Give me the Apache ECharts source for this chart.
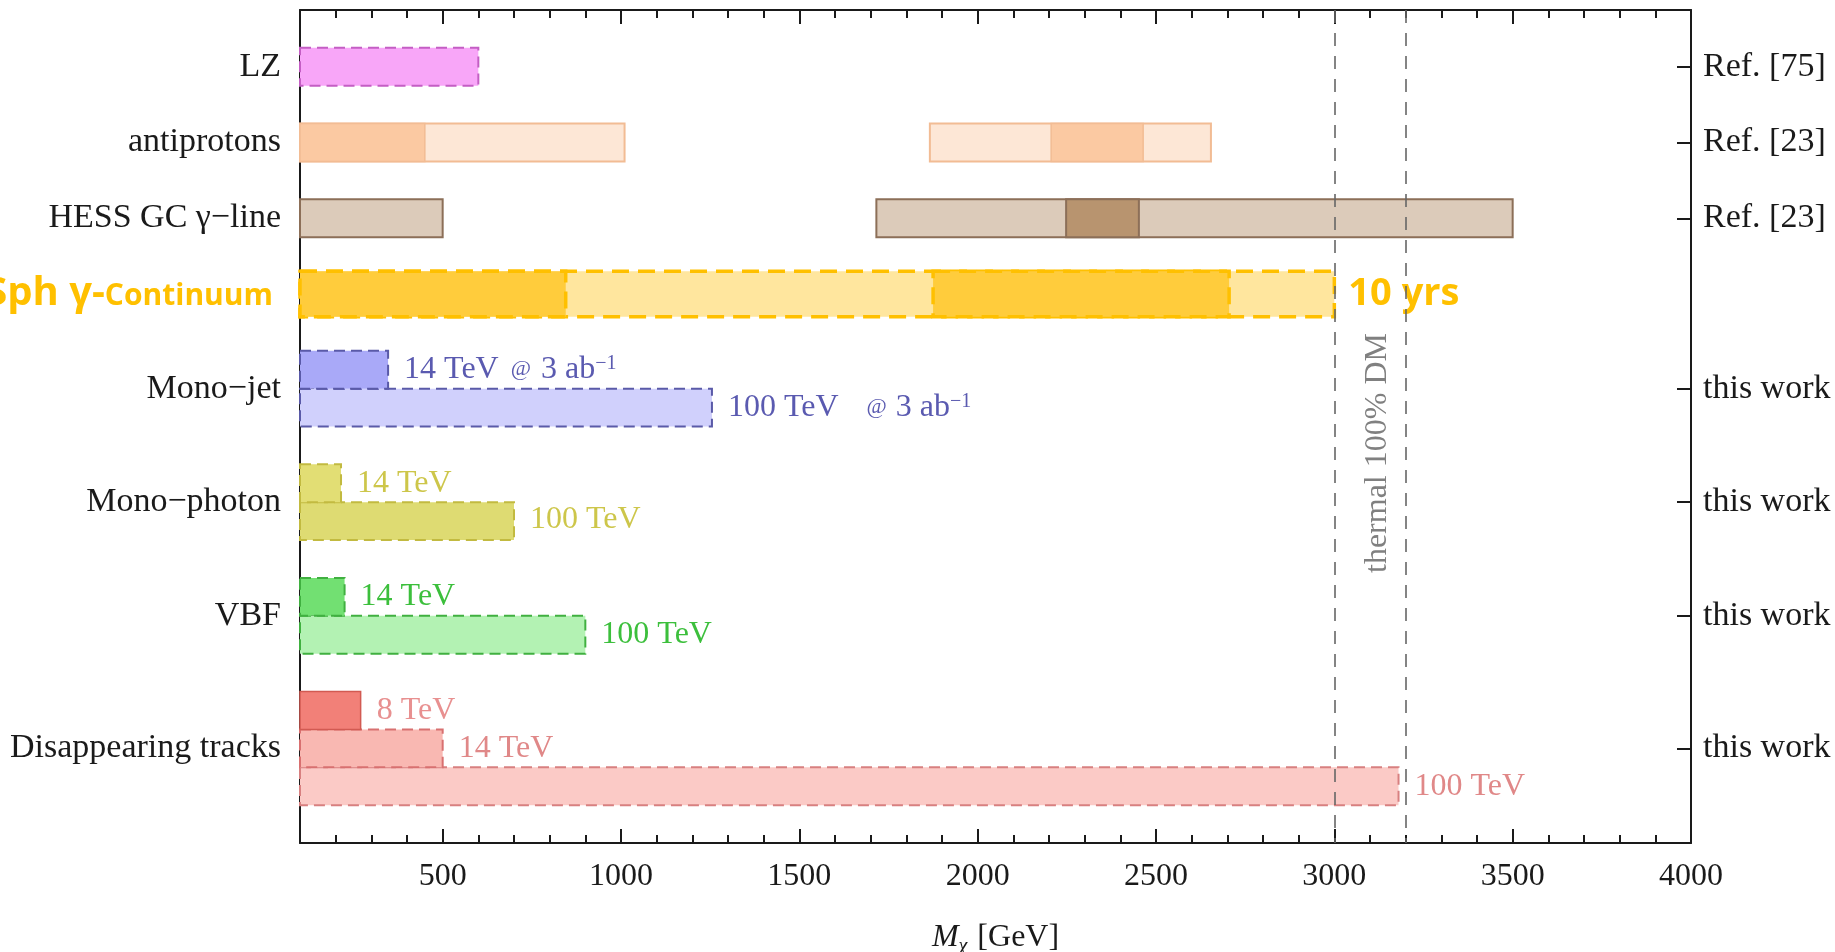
<!DOCTYPE html>
<html>
<head>
<meta charset="utf-8">
<script src="https://cdn.jsdelivr.net/npm/echarts@6/dist/echarts.min.js"></script>
<style>
html,body{margin:0;padding:0;background:#fff;}
#chart{width:1835px;height:952px;}
</style>
</head>
<body>
<div id="chart"></div>
<script>
// ---------- data ----------
const categories = ['LZ', 'antiprotons', 'HESS GC γ−line', 'Sph γ-Continuum', 'Mono−jet', 'Mono−photon', 'VBF', 'Disappearing tracks'];
const categoryPos = [1.5, 3.5, 5.5, 7.5, 10, 13, 16, 19.5];
const refLabels = ['Ref. [75]', 'Ref. [23]', 'Ref. [23]', '', 'this work', 'this work', 'this work', 'this work'];
const xTickLabels = [500, 1000, 1500, 2000, 2500, 3000, 3500, 4000];
const xMinorTicks = [200, 300, 400, 500, 600, 700, 800, 900, 1000, 1100, 1200, 1300, 1400, 1500, 1600, 1700, 1800, 1900, 2000, 2100, 2200, 2300, 2400, 2500, 2600, 2700, 2800, 2900, 3000, 3100, 3200, 3300, 3400, 3500, 3600, 3700, 3800, 3900];

// bars: [from GeV, to GeV, row lane]
const lzBars = [[100, 600, 1.5]];
const antiprotonLight = [[100, 1010, 3.5], [1866, 2654, 3.5]];
const antiprotonDark = [[100, 450, 3.5], [2206, 2464, 3.5]];
const hessLight = [[100, 500, 5.5], [1716, 3500, 5.5]];
const hessDark = [[2248, 2452, 5.5]];
const sphLight = [[100, 3000, 7.5]];
const sphDark = [[100, 845, 7.5], [1875, 2705, 7.5]];
const monojet100 = [[100, 1255, 10.5]];
const monojet14 = [[100, 347, 9.5]];
const monophoton100 = [[100, 700, 13.5]];
const monophoton14 = [[100, 215, 12.5]];
const vbf100 = [[100, 900, 16.5]];
const vbf14 = [[100, 225, 15.5]];
const dt100 = [[100, 3180, 20.5]];
const dt14 = [[100, 500, 19.5]];
const dt8 = [[100, 270, 18.5]];
const thermalLines = [3000, 3200];
const thermalNote = [[3122, 11.7, 'thermal 100% DM']];

// ---------- styling ----------
const SERIF = '"Liberation Serif", "DejaVu Serif", serif';
const SANS = '"Open Sans", "Noto Sans", sans-serif';
const dashS = [11, 6];

function barSeries(name, data, st) {
  return {
    type: 'custom', name: name, data: data, xAxisIndex: 0, yAxisIndex: 0, clip: false, silent: true,
    renderItem: function (params, api) {
      const h = st.h || 1;
      const a = api.coord([api.value(0), api.value(2) - h / 2]);
      const b = api.coord([api.value(1), api.value(2) + h / 2]);
      const y0 = Math.min(a[1], b[1]), y1 = Math.max(a[1], b[1]);
      const children = [{
        type: 'rect',
        shape: { x: a[0], y: y0, width: b[0] - a[0], height: y1 - y0 },
        style: { fill: st.fill, stroke: st.stroke || null, lineWidth: st.lw || 1.5, lineDash: st.dash || null }
      }];
      if (st.label) {
        children.push({
          type: 'text', x: b[0] + (st.gap || 15), y: (y0 + y1) / 2 + (st.dy || 0),
          style: {
            text: st.label, fill: st.color, fontSize: st.fontSize || 32,
            fontFamily: st.font || SERIF, fontWeight: st.fontWeight || 'normal',
            align: 'left', verticalAlign: 'middle', rich: st.rich || {}
          }
        });
      }
      return { type: 'group', children: children };
    }
  };
}

function supRich(color, atPad) {
  return {
    a: { fill: color, fontSize: 32, fontFamily: SERIF },
    at: { fill: color, fontSize: 22, fontFamily: SERIF, padding: atPad },
    sup: { fill: color, fontSize: 20, fontFamily: SERIF, verticalAlign: 'top', padding: [0, 0, 10, 0] }
  };
}

const series = [
  barSeries('LZ', lzBars, { fill: '#f8a6f8', stroke: '#c45ec4', dash: dashS, lw: 2 }),
  barSeries('antiprotons light', antiprotonLight, { fill: '#fde7d6', stroke: '#f2bc94', lw: 2 }),
  barSeries('antiprotons dark', antiprotonDark, { fill: '#fbc9a2', stroke: '#f2bc94', lw: 1.5 }),
  barSeries('HESS light', hessLight, { fill: '#dccbba', stroke: '#8c6f58', lw: 2 }),
  barSeries('HESS dark', hessDark, { fill: '#b8946f', stroke: '#8c6f58', lw: 2 }),
  barSeries('Sph light', sphLight, { h: 1.2, fill: '#ffe69e', stroke: '#ffc000', dash: [17, 9], lw: 3.5,
    label: '10 yrs', color: '#ffc000', fontSize: 38, font: SANS, fontWeight: 'bold', gap: 14 }),
  barSeries('Sph dark', sphDark, { h: 1.2, fill: '#ffcc3c', stroke: '#ffc000', dash: [17, 9], lw: 3.5 }),
  barSeries('Mono-jet 100', monojet100, { fill: '#d0d0fc', stroke: '#5a5aa8', dash: dashS, lw: 2,
    label: '{a|100 TeV}{at|@}{a|3 ab}{sup|−1}', color: '#5a5ab0', rich: supRich('#5a5ab0', [0, 9, 0, 28]), gap: 16 }),
  barSeries('Mono-jet 14', monojet14, { fill: '#a9a9f8', stroke: '#5a5aa8', dash: dashS, lw: 2,
    label: '{a|14 TeV}{at|@}{a|3 ab}{sup|−1}', color: '#5a5ab0', rich: supRich('#5a5ab0', [0, 10, 0, 12]), gap: 16 }),
  barSeries('Mono-photon 100', monophoton100, { fill: '#dedb72', stroke: '#c2ba40', dash: dashS, lw: 2,
    label: '100 TeV', color: '#cdc64a', gap: 16, dy: -2 }),
  barSeries('Mono-photon 14', monophoton14, { fill: '#e2de74', stroke: '#c2ba40', dash: dashS, lw: 2,
    label: '14 TeV', color: '#cdc64a', gap: 16 }),
  barSeries('VBF 100', vbf100, { fill: '#b3f2b3', stroke: '#40b040', dash: dashS, lw: 2,
    label: '100 TeV', color: '#3cbf3c', gap: 16 }),
  barSeries('VBF 14', vbf14, { fill: '#72e072', stroke: '#40b040', dash: dashS, lw: 2,
    label: '14 TeV', color: '#3cbf3c', gap: 16 }),
  barSeries('DT 100', dt100, { fill: '#fbcac6', stroke: '#d88080', dash: dashS, lw: 2,
    label: '100 TeV', color: '#e08888', gap: 16 }),
  barSeries('DT 14', dt14, { fill: '#f9b8b2', stroke: '#d87070', dash: dashS, lw: 2,
    label: '14 TeV', color: '#e08888', gap: 16 }),
  barSeries('DT 8', dt8, { fill: '#f28078', stroke: '#d25a52', lw: 1.5,
    label: '8 TeV', color: '#e89090', gap: 16 }),
  {
    type: 'custom', name: 'thermal', data: thermalNote, xAxisIndex: 0, yAxisIndex: 0, clip: false, silent: true,
    renderItem: function (params, api) {
      const p = api.coord([api.value(0), api.value(1)]);
      return {
        type: 'text', x: p[0], y: p[1], rotation: Math.PI / 2,
        style: { text: thermalNote[params.dataIndex][2], fill: '#808080', fontSize: 32, fontFamily: SERIF,
          align: 'center', verticalAlign: 'middle' }
      };
    },
    markLine: {
      silent: true, symbol: 'none', animation: false,
      label: { show: false },
      lineStyle: { type: [13, 10], color: '#666', width: 1.6 },
      data: thermalLines.map(v => ({ xAxis: v }))
    }
  }
];

const axisCommon = {
  type: 'value', min: 100, max: 4000, gridIndex: 0,
  splitLine: { show: false }
};

const tickPos = categoryPos.filter((v, i) => refLabels[i] !== '' && i !== 3);

const option = {
  animation: false,
  backgroundColor: '#ffffff',
  grid: { left: 300, right: 144, top: 10, bottom: 109, containLabel: false, outerBoundsMode: 'none' },
  xAxis: [
    Object.assign({}, axisCommon, {
      position: 'bottom',
      axisLine: { show: true, onZero: false, lineStyle: { color: '#1a1a1a', width: 2 } },
      axisTick: { show: true, inside: true, length: 14, customValues: xTickLabels, lineStyle: { color: '#1a1a1a', width: 2 } },
      axisLabel: { show: true, customValues: xTickLabels, margin: 18, color: '#1a1a1a', fontSize: 32, fontFamily: SERIF,
        formatter: v => String(v) },
      name: '{i|M}{sub|χ} [GeV]', nameLocation: 'middle', nameGap: 76,
      nameTextStyle: {
        color: '#1a1a1a', fontSize: 32, fontFamily: SERIF,
        rich: {
          i: { fontStyle: 'italic', fontSize: 32, fontFamily: SERIF, color: '#1a1a1a' },
          sub: { fontStyle: 'italic', fontSize: 20, fontFamily: SERIF, color: '#1a1a1a', verticalAlign: 'bottom', padding: [18, 2, 0, 0] }
        }
      }
    }),
    Object.assign({}, axisCommon, {
      position: 'bottom',
      axisLine: { show: false, onZero: false },
      axisTick: { show: true, inside: true, length: 8, customValues: xMinorTicks, lineStyle: { color: '#1a1a1a', width: 2 } },
      axisLabel: { show: false }
    }),
    Object.assign({}, axisCommon, {
      position: 'top',
      axisLine: { show: true, onZero: false, lineStyle: { color: '#1a1a1a', width: 2 } },
      axisTick: { show: true, inside: true, length: 14, customValues: xTickLabels, lineStyle: { color: '#1a1a1a', width: 2 } },
      axisLabel: { show: false }
    }),
    Object.assign({}, axisCommon, {
      position: 'top',
      axisLine: { show: false, onZero: false },
      axisTick: { show: true, inside: true, length: 8, customValues: xMinorTicks, lineStyle: { color: '#1a1a1a', width: 2 } },
      axisLabel: { show: false }
    })
  ],
  yAxis: [
    {
      type: 'value', position: 'left', inverse: true, min: 0, max: 22,
      splitLine: { show: false },
      axisLine: { show: true, onZero: false, lineStyle: { color: '#1a1a1a', width: 2 } },
      axisTick: { show: true, inside: true, length: 14, customValues: tickPos, lineStyle: { color: '#1a1a1a', width: 2 } },
      axisLabel: {
        show: true, customValues: categoryPos, margin: 19, color: '#1a1a1a', fontSize: 34, fontFamily: SERIF,
        formatter: function (v) {
          const i = categoryPos.indexOf(v);
          if (i === 3) {
            const parts = categories[3].split('-');
            return '{sa|' + parts[0] + '-}{sb|' + parts[1] + '}';
          }
          return i >= 0 ? categories[i] : '';
        },
        rich: {
          sa: { color: '#ffc000', fontSize: 40, fontWeight: 'bold', fontFamily: SANS },
          sb: { color: '#ffc000', fontSize: 30, fontWeight: 'bold', fontFamily: SANS, padding: [4, 8, 0, 0] }
        }
      }
    },
    {
      type: 'value', position: 'right', inverse: true, min: 0, max: 22,
      splitLine: { show: false },
      axisLine: { show: true, onZero: false, lineStyle: { color: '#1a1a1a', width: 2 } },
      axisTick: { show: true, inside: true, length: 14, customValues: tickPos, lineStyle: { color: '#1a1a1a', width: 2 } },
      axisLabel: {
        show: true, customValues: tickPos, margin: 12, color: '#1a1a1a', fontSize: 34, fontFamily: SERIF,
        formatter: function (v) {
          const i = categoryPos.indexOf(v);
          return i >= 0 ? refLabels[i] : '';
        }
      }
    }
  ],
  series: series
};

const chart = echarts.init(document.getElementById('chart'), null, { renderer: 'canvas' });
chart.setOption(option);
</script>
</body>
</html>
